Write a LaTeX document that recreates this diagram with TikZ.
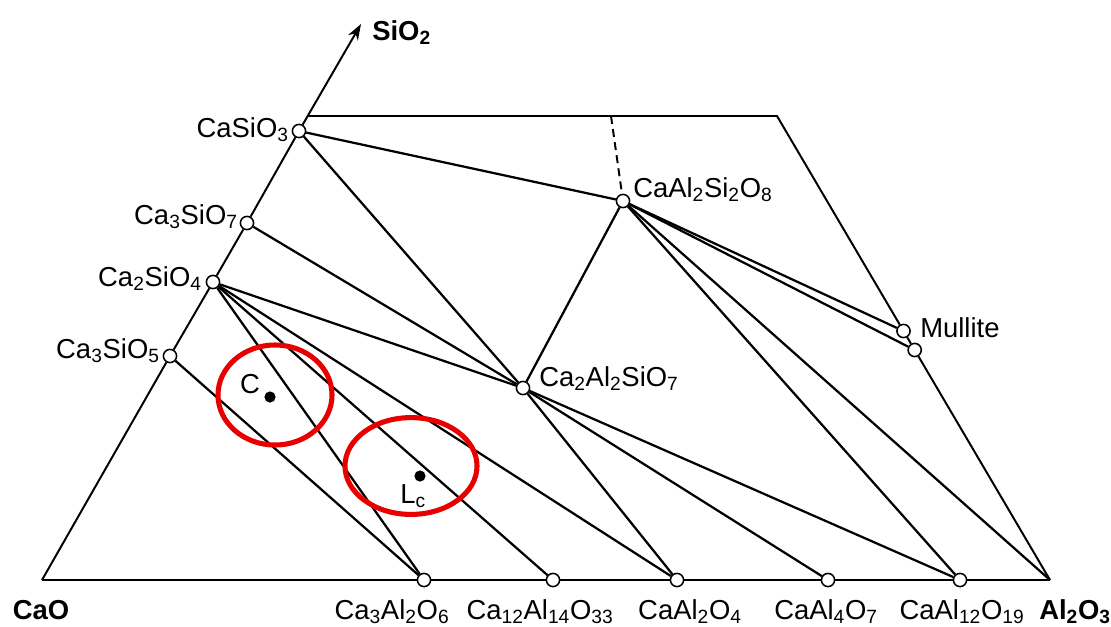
\documentclass[tikz,border=0pt]{standalone}
\usepackage{fontspec}
\setmainfont{Liberation Sans}
\usetikzlibrary{arrows.meta}
\newcommand\sbx[1]{\textsubscript{#1}}
\definecolor{ringred}{RGB}{232,0,0}
\begin{document}
\begin{tikzpicture}[x=0.025cm,y=-0.025cm,
  font=\fontsize{19.5pt}{22pt}\selectfont,
  edge/.style={line width=1.4pt, black},
  tie/.style={line width=1.6pt, black},
  cpt/.style={circle, draw, fill=white, inner sep=0pt, minimum size=0.33cm, line width=1.1pt},
  lab/.style={inner sep=0pt},
  blab/.style={inner sep=0pt, font=\fontsize{19.5pt}{22pt}\selectfont\bfseries},
  ring/.style={draw=ringred, line width=3.6pt},
  dot/.style={circle, fill=black, inner sep=0pt, minimum size=0.28cm}]
\useasboundingbox (0,0) rectangle (1111,626);

% corners and free ends
\coordinate (cao) at (42,580);
\coordinate (al) at (1050,580);
\coordinate (tip) at (361,24);
\coordinate (tl) at (308,116);
\coordinate (tr) at (777,116);
\coordinate (dtop) at (611,116);

% compound points
\node[cpt] (c3s) at (170,356) {};
\node[cpt] (c2s) at (213,282) {};
\node[cpt] (c3s2) at (247,223) {};
\node[cpt] (cs) at (299,131) {};
\node[cpt] (an) at (623,201) {};
\node[cpt] (geh) at (523,388) {};
\node[cpt] (m1) at (903.5,331) {};
\node[cpt] (m2) at (914.7,350) {};
\node[cpt] (c3a) at (424,580) {};
\node[cpt] (c12a7) at (553,580) {};
\node[cpt] (ca) at (677,580) {};
\node[cpt] (ca2) at (828,580) {};
\node[cpt] (ca6) at (960,580) {};

% outline
\draw[edge] (cao) -- (c3s) -- (c2s) -- (c3s2) -- (cs);
\draw[edge,-{Stealth[length=0.4cm,width=0.28cm]}] (cs) -- (tip);
\draw[edge] (tl) -- (tr) -- (m1);
\draw[edge] (m1) -- (m2);
\draw[edge] (m2) -- (al);
\draw[edge] (cao) -- (c3a) -- (c12a7) -- (ca) -- (ca2) -- (ca6) -- (al);
\draw[edge, dash pattern=on 0.2cm off 0.13cm] (dtop) -- (an);

% tie lines
\draw[tie] (cs) -- (an);
\draw[tie] (cs) -- (geh);
\draw[tie] (c3s2) -- (geh);
\draw[tie] (c2s) -- (geh);
\draw[tie] (c2s) -- (ca);
\draw[tie] (c2s) -- (c12a7);
\draw[tie] (c2s) -- (c3a);
\draw[tie] (c3s) -- (c3a);
\draw[tie] (geh) -- (an);
\draw[tie] (geh) -- (ca);
\draw[tie] (geh) -- (ca2);
\draw[tie] (geh) -- (ca6);
\draw[tie] (an) -- (m1);
\draw[tie] (an) -- (m2);
\draw[tie] (an) -- (ca6);
\draw[tie] (an) -- (al);

% labels
\node[blab, anchor=base west] (lsio2) at (372,40) {SiO\sbx{2}};
\node[lab, anchor=base east] (lcs) at (289,137) {CaSiO\sbx{3}};
\node[lab, anchor=base east] (lc3s2) at (238,224) {Ca\sbx{3}SiO\sbx{7}};
\node[lab, anchor=base east] (lc2s) at (202,286) {Ca\sbx{2}SiO\sbx{4}};
\node[lab, anchor=base east] (lc3s) at (160,358) {Ca\sbx{3}SiO\sbx{5}};
\node[lab, anchor=base west] (lan) at (633,197) {CaAl\sbx{2}Si\sbx{2}O\sbx{8}};
\node[lab, anchor=base west] (lgeh) at (539,386) {Ca\sbx{2}Al\sbx{2}SiO\sbx{7}};
\node[lab, anchor=base west] (lmul) at (920,337) {Mullite};
\node[blab, anchor=base] (lcao) at (41,619) {CaO};
\node[lab, anchor=base] (lc3a) at (392,619) {Ca\sbx{3}Al\sbx{2}O\sbx{6}};
\node[lab, anchor=base] (lc12a7) at (540,619) {Ca\sbx{12}Al\sbx{14}O\sbx{33}};
\node[lab, anchor=base] (lca) at (690,619) {CaAl\sbx{2}O\sbx{4}};
\node[lab, anchor=base] (lca2) at (826,619) {CaAl\sbx{4}O\sbx{7}};
\node[lab, anchor=base] (lca6) at (962,619) {CaAl\sbx{12}O\sbx{19}};
\node[blab, anchor=base] (lal) at (1075,619) {Al\sbx{2}O\sbx{3}};

% marked compositions
\node[dot] (pc) at (270,397) {};
\node[lab] (lpc) at (250,384) {C};
\node[dot] (plc) at (420,476) {};
\node[lab, anchor=base west] (lplc) at (400,503) {L\sbx{c}};
\draw[ring] (275,395) ellipse [x radius=1.425cm, y radius=1.25cm];
\draw[ring] (411,466) ellipse [x radius=1.65cm, y radius=1.21cm];
\end{tikzpicture}
\end{document}
